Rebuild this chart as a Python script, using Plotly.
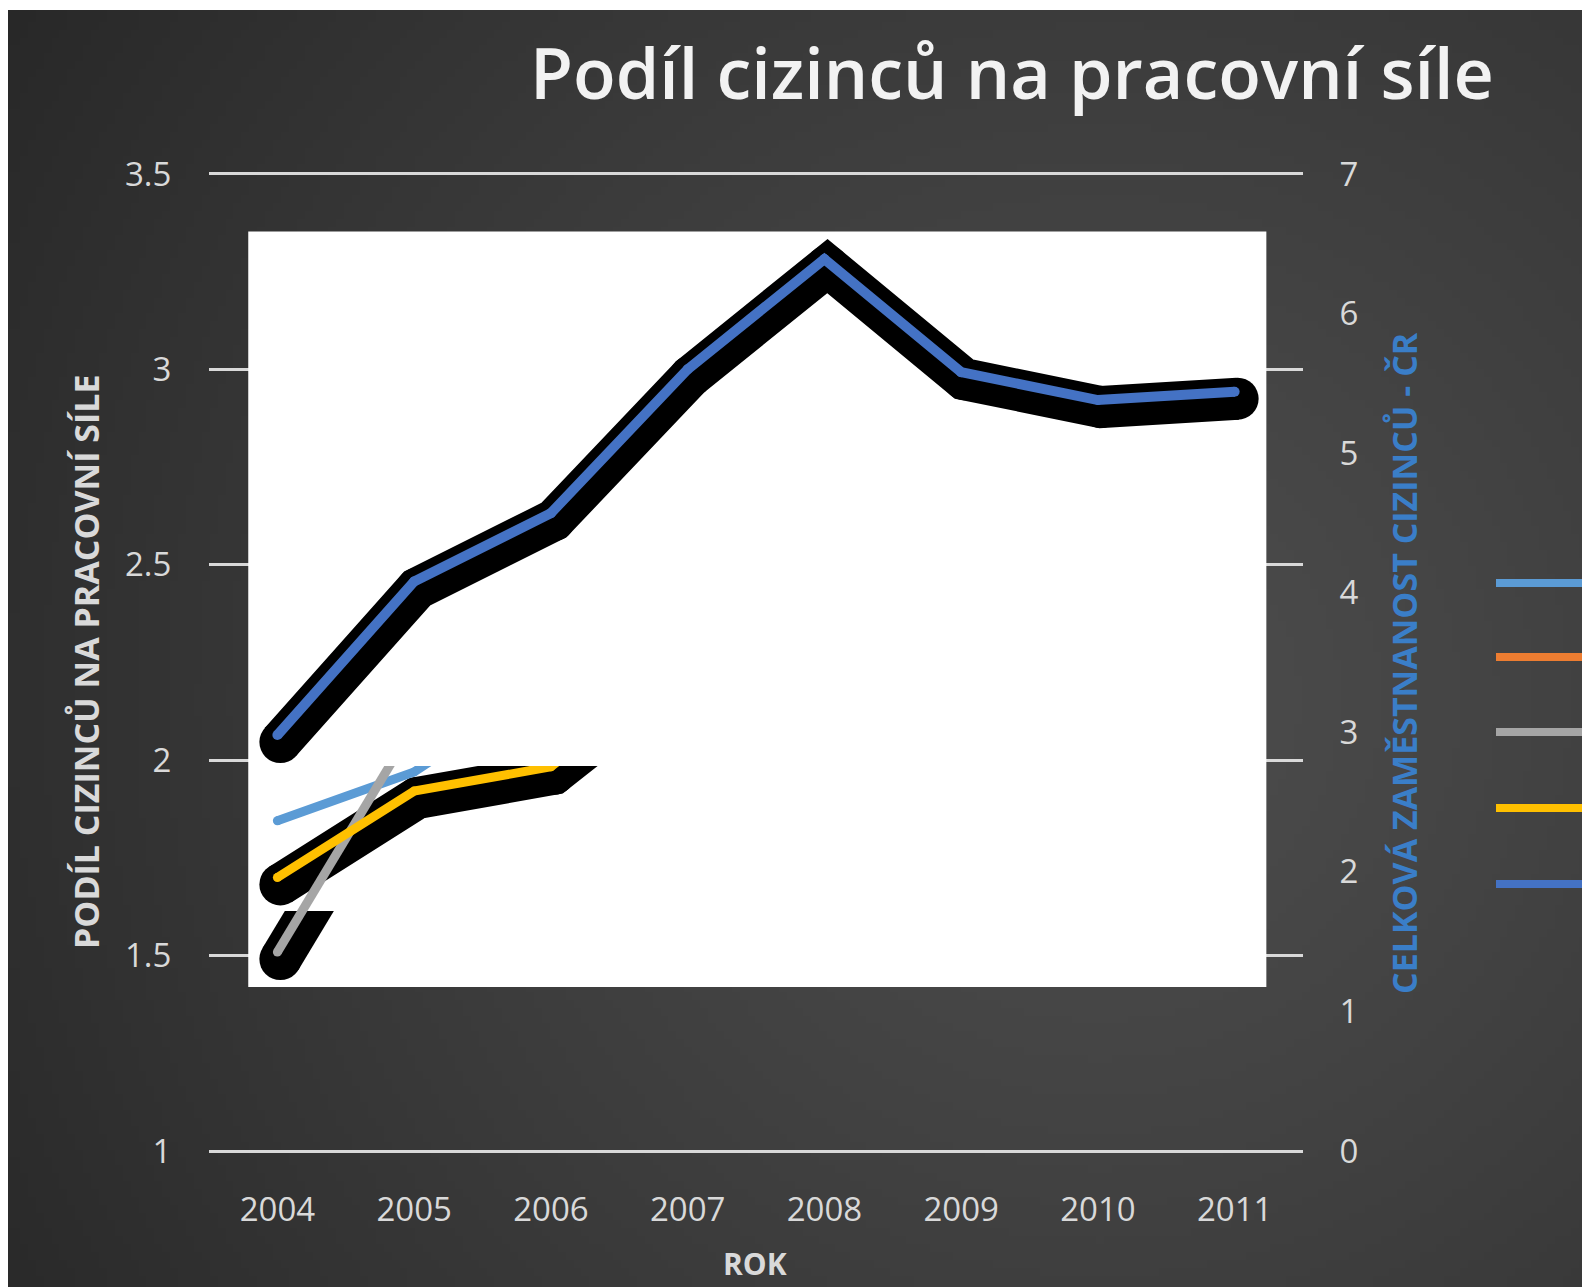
import base64, struct, zlib
import numpy as np
import plotly.graph_objects as go

# ---------------- data ----------------
years = [2004, 2005, 2006, 2007, 2008, 2009, 2010, 2011]
year_labels = ["2004", "2005", "2006", "2007", "2008", "2009", "2010", "2011"]
series1 = [1.845, 1.97, 2.2, None, None, None, None, None]          # light blue (left axis)
series2 = [2.3, 2.45, None, None, None, None, None, None]           # orange (left axis, off-view)
series3 = [1.509, 2.09, None, None, None, None, None, None]         # gray (left axis)
series4 = [1.70, 1.921, 1.983, 2.26, None, None, None, None]        # yellow (left axis)
series5 = [2.98, 4.08, 4.57, 5.60, 6.39, 5.58, 5.38, 5.44]          # blue (right axis)
left_ticks = [1, 1.5, 2, 2.5, 3, 3.5]
left_tick_labels = ["1", "1.5", "2", "2.5", "3", "3.5"]
right_ticks = [0, 1, 2, 3, 4, 5, 6, 7]
right_tick_labels = ["0", "1", "2", "3", "4", "5", "6", "7"]

C_LBLUE = "#5B9BD5"
C_ORANGE = "#ED7D31"
C_GRAY = "#A5A5A5"
C_YELLOW = "#FFC000"
C_BLUE = "#4472C4"
legend_colors = [C_LBLUE, C_ORANGE, C_GRAY, C_YELLOW, C_BLUE]

# ---------------- geometry (page pixels, body margin = 8px) ----------------
OFF = 8
W, H = 1590 - OFF, 1287 - OFF
L, R, T, B = 201, 287, 164, 134
PW, PH = W - L - R, H - T - B
EPS = 0.005
LEFT_RANGE = [1 - EPS, 3.5 + EPS]
RIGHT_RANGE = [0 - EPS * 2.8, 7 + EPS * 2.8]
CLIP_TOP = 1.985          # lines of left axis disappear above this value
GRAY_SH_TOP = 1.614       # gray shadow clipped here
DY, DX = 7, 3             # shadow offset (px)
u_left = (LEFT_RANGE[1] - LEFT_RANGE[0]) / PH
u_right = (RIGHT_RANGE[1] - RIGHT_RANGE[0]) / PH
dom_clip = (CLIP_TOP - LEFT_RANGE[0]) / (LEFT_RANGE[1] - LEFT_RANGE[0])
dom_gray = (GRAY_SH_TOP - LEFT_RANGE[0]) / (LEFT_RANGE[1] - LEFT_RANGE[0])
SH_W = 42
LN_W = 9

def px_x(p):
    return (p - OFF - L) / PW

def px_y(p):
    return (H - B - (p - OFF)) / PH

# ---------------- background gradient png ----------------
def make_bg(w=200, h=162):
    ii, jj = np.meshgrid(np.arange(w), np.arange(h))
    px = (ii + 0.5) * (1590 - OFF) / w + OFF
    py = (jj + 0.5) * (1287 - 10) / h + 10
    d = np.hypot(px - 1100, py - 700)
    v = 77 - 37 * np.clip(d / 1300, 0, 1.15) ** 1.2
    v = np.clip(v, 0, 255).astype(np.uint8)
    rgb = np.stack([v, v, v], axis=-1)
    raw = b"".join(b"\x00" + rgb[r].tobytes() for r in range(h))
    def chunk(tag, data):
        c = struct.pack(">I", len(data)) + tag + data
        return c + struct.pack(">I", zlib.crc32(tag + data) & 0xffffffff)
    png = b"\x89PNG\r\n\x1a\n" + chunk(b"IHDR", struct.pack(">IIBBBBB", w, h, 8, 2, 0, 0, 0)) \
        + chunk(b"IDAT", zlib.compress(raw, 9)) + chunk(b"IEND", b"")
    return "data:image/png;base64," + base64.b64encode(png).decode()

FONT = "Open Sans"
TICK_FONT = dict(family=FONT, size=33, color="#d9d9d9")

fig = go.Figure()

def add_line(x, y, color, width, xaxis, yaxis):
    fig.add_trace(go.Scatter(
        x=x, y=y, mode="lines+markers", xaxis=xaxis, yaxis=yaxis,
        line=dict(color=color, width=width),
        marker=dict(color=color, size=width, line=dict(width=0)),
        connectgaps=False, showlegend=False, hoverinfo="skip"))

# blue series shadow (x4/y2) then blue series on right axis (x5/y3)
add_line(years, series5, "black", SH_W, "x4", "y2")
add_line(years, series5, C_BLUE, LN_W + 1, "x5", "y3")
# gray shadow (clipped low)
add_line(years, series3, "black", SH_W, "x2", "y4")
# yellow shadow (clipped at CLIP_TOP)
add_line(years, series4, "black", SH_W, "x3", "y5")
# lines of the left axis (clipped at CLIP_TOP)
add_line(years, series1, C_LBLUE, LN_W, "x6", "y6")
add_line(years, series2, C_ORANGE, LN_W, "x6", "y6")
add_line(years, series3, C_GRAY, LN_W, "x6", "y6")
add_line(years, series4, C_YELLOW, LN_W, "x6", "y6")

xr = [years[0] - 0.5, years[-1] + 0.5]
ux = (xr[1] - xr[0]) / PW
xr_sh = [xr[0] - DX * ux, xr[1] - DX * ux]
hidden = dict(visible=False, showgrid=False, zeroline=False, fixedrange=True)

shapes = [dict(type="rect", xref="x", yref="y", layer="between",
               x0=2003.787, x1=2011.232, y0=1.420, y1=3.353,
               fillcolor="white", line=dict(width=0))]
legend_y_px = [583, 657, 732, 808, 884]
for c, yp in zip(legend_colors, legend_y_px):
    shapes.append(dict(type="line", xref="paper", yref="paper",
                       x0=px_x(1496), x1=px_x(1610), y0=px_y(yp), y1=px_y(yp),
                       line=dict(color=c, width=8)))

fig.update_layout(
    width=W, height=H,
    margin=dict(l=L, r=R, t=T, b=B, pad=0),
    paper_bgcolor="white", plot_bgcolor="rgba(0,0,0,0)",
    showlegend=False,
    images=[dict(source=make_bg(), xref="paper", yref="paper",
                 x=px_x(OFF), y=px_y(10), sizex=(1590 - OFF) / PW, sizey=(1287 - 10) / PH,
                 xanchor="left", yanchor="top", sizing="stretch", layer="below")],
    xaxis=dict(range=xr, tickvals=years, ticktext=year_labels, showgrid=False,
               zeroline=False, showline=False, ticks="outside", ticklen=27,
               tickcolor="rgba(0,0,0,0)", tickfont=TICK_FONT, fixedrange=True),
    yaxis=dict(range=LEFT_RANGE, tickvals=left_ticks, ticktext=left_tick_labels,
               showgrid=True, gridcolor="#d9d9d9", gridwidth=3, zeroline=False,
               showline=False, ticks="outside", ticklen=30,
               tickcolor="rgba(0,0,0,0)", tickfont=TICK_FONT, fixedrange=True),
    xaxis4=dict(overlaying="x", range=xr_sh, anchor="y2", **hidden),
    yaxis2=dict(overlaying="y", anchor="x4",
                range=[RIGHT_RANGE[0] + DY * u_right, RIGHT_RANGE[1] + DY * u_right], **hidden),
    xaxis5=dict(overlaying="x", range=xr, anchor="y3", **hidden),
    yaxis3=dict(overlaying="y", side="right", anchor="x5", range=RIGHT_RANGE,
                tickvals=right_ticks, ticktext=right_tick_labels, showgrid=False,
                zeroline=False, showline=False, ticks="outside", ticklen=29,
                tickcolor="rgba(0,0,0,0)", tickfont=TICK_FONT, fixedrange=True),
    xaxis2=dict(domain=[0, 1], range=xr_sh, anchor="y4", **hidden),
    yaxis4=dict(domain=[0, dom_gray], anchor="x2",
                range=[LEFT_RANGE[0] + DY * u_left, GRAY_SH_TOP + DY * u_left], **hidden),
    xaxis3=dict(domain=[0, 1], range=xr_sh, anchor="y5", **hidden),
    yaxis5=dict(domain=[0, dom_clip], anchor="x3",
                range=[LEFT_RANGE[0] + DY * u_left, CLIP_TOP + DY * u_left], **hidden),
    xaxis6=dict(overlaying="x3", range=xr, anchor="y6", **hidden),
    yaxis6=dict(overlaying="y5", anchor="x6", range=[LEFT_RANGE[0], CLIP_TOP], **hidden),
    shapes=shapes,
    annotations=[
        dict(text="Podíl cizinců na pracovní síle", xref="paper", yref="paper",
             x=px_x(1012), y=px_y(72), xanchor="center", yanchor="middle", showarrow=False,
             font=dict(family=FONT, size=70, color="#f2f2f2", weight=600)),
        dict(text="PODÍL CIZINCŮ NA PRACOVNÍ SÍLE", xref="paper", yref="paper",
             x=px_x(86), y=px_y(662), xanchor="center", yanchor="middle", showarrow=False,
             textangle=-90, font=dict(family=FONT, size=34, color="#d9d9d9", weight="bold")),
        dict(text="CELKOVÁ ZAMĚSTNANOST CIZINCŮ - ČR", xref="paper", yref="paper",
             x=px_x(1404), y=px_y(663), xanchor="center", yanchor="middle", showarrow=False,
             textangle=-90, font=dict(family=FONT, size=34, color="#3a7ec8", weight="bold")),
        dict(text="ROK", xref="paper", yref="paper",
             x=px_x(755), y=px_y(1263), xanchor="center", yanchor="middle", showarrow=False,
             font=dict(family=FONT, size=30, color="#d9d9d9", weight="bold")),
    ],
)

fig.write_html("out.html")
